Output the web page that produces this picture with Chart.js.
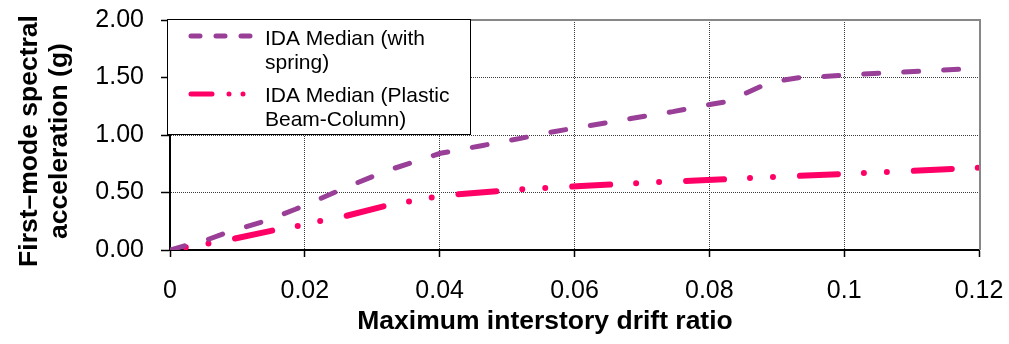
<!DOCTYPE html>
<html>
<head>
<meta charset="utf-8">
<script src="https://cdn.jsdelivr.net/npm/chart.js@4.4.1/dist/chart.umd.min.js"></script>
<style>
  html, body { margin: 0; padding: 0; background: #fff; }
  #wrap { width: 1009px; height: 344px; position: relative; }
  canvas { display: block; }
</style>
</head>
<body>
<div id="wrap"><canvas id="c" width="1009" height="344"></canvas></div>
<script>
// ---- Data ----
const springX = [0, 0.0025, 0.0057, 0.0081, 0.0141, 0.0186, 0.0216, 0.0267, 0.0322, 0.0401, 0.0462, 0.052, 0.0569, 0.0628, 0.0686, 0.0746, 0.0805, 0.0827, 0.0854, 0.0881, 0.0911, 0.0932, 0.0963, 0.1022, 0.1081, 0.114, 0.12];
const springY = [0, 0.043, 0.093, 0.145, 0.252, 0.354, 0.429, 0.559, 0.69, 0.841, 0.907, 0.971, 1.029, 1.087, 1.145, 1.203, 1.27, 1.29, 1.363, 1.435, 1.478, 1.498, 1.507, 1.528, 1.545, 1.563, 1.58];
const plasticX = [0, 0.0059, 0.0091, 0.0156, 0.0189, 0.0222, 0.0257, 0.0319, 0.0353, 0.0387, 0.042, 0.0509, 0.0542, 0.0576, 0.061, 0.0671, 0.0705, 0.0773, 0.083, 0.0902, 0.0998, 0.1096, 0.12];
const plasticY = [0, 0.058, 0.093, 0.174, 0.209, 0.252, 0.29, 0.383, 0.42, 0.455, 0.482, 0.522, 0.536, 0.545, 0.557, 0.574, 0.585, 0.603, 0.617, 0.637, 0.661, 0.687, 0.716];
const xTicks = [0, 0.02, 0.04, 0.06, 0.08, 0.1, 0.12];
const yTicks = [0, 0.5, 1.0, 1.5, 2.0];
const seriesNames = ['IDA Median (with spring)', 'IDA Median (Plastic Beam-Column)'];
const legendLines = [['IDA Median (with', 'spring)'], ['IDA Median (Plastic', 'Beam-Column)']];
const xTitle = 'Maximum interstory drift ratio';
const yTitle = ['First\u2013mode spectral', 'acceleration (g)'];

const FONT = '"Liberation Sans", Arial, Helvetica, sans-serif';
const PURPLE = '#993f98';
const PINK = '#ff0066';

function pts(xs, ys) { return xs.map((x, i) => ({ x: x, y: ys[i] })); }
function noPad(s) { s.paddingTop = 0; s.paddingBottom = 0; s.paddingLeft = 0; s.paddingRight = 0; }

const frame = {
  id: 'frame',
  beforeDatasetsDraw(chart) {
    const { ctx, chartArea: a } = chart;
    ctx.save();
    ctx.strokeStyle = '#878787';
    ctx.lineWidth = 2;
    ctx.beginPath();
    ctx.moveTo(a.left, a.top);
    ctx.lineTo(a.right + 1, a.top);
    ctx.lineTo(a.right + 1, a.bottom);
    ctx.stroke();
    ctx.restore();
  }
};

const axisTitles = {
  id: 'axisTitles',
  afterDraw(chart) {
    const ctx = chart.ctx;
    ctx.save();
    ctx.fillStyle = '#000';
    ctx.font = 'bold 26.5px ' + FONT;
    ctx.textAlign = 'center';
    ctx.textBaseline = 'middle';
    ctx.fillText(xTitle, 545, 322);
    ctx.translate(0, 141);
    ctx.rotate(-Math.PI / 2);
    ctx.fillText(yTitle[0], 0, 30);
    ctx.fillText(yTitle[1], 0, 60);
    ctx.restore();
  }
};

const legendBox = {
  id: 'legendBox',
  afterDraw(chart) {
    const ctx = chart.ctx;
    ctx.save();
    ctx.fillStyle = '#fff';
    ctx.fillRect(167, 19.5, 304, 115);
    ctx.strokeStyle = '#000';
    ctx.lineWidth = 1;
    ctx.strokeRect(167.5, 19.5, 303, 115);
    ctx.lineCap = 'round';
    ctx.strokeStyle = PURPLE;
    ctx.lineWidth = 5;
    ctx.setLineDash([9, 16]);
    ctx.beginPath(); ctx.moveTo(191, 36); ctx.lineTo(252, 36); ctx.stroke();
    ctx.strokeStyle = PINK;
    ctx.lineWidth = 5;
    ctx.setLineDash([21, 17, 0, 14, 0, 100]);
    ctx.beginPath(); ctx.moveTo(191, 94); ctx.lineTo(252, 94); ctx.stroke();
    ctx.setLineDash([]);
    ctx.fillStyle = '#000';
    ctx.font = '21px ' + FONT;
    ctx.textAlign = 'left';
    ctx.textBaseline = 'alphabetic';
    ctx.fillText(legendLines[0][0], 265, 45);
    ctx.fillText(legendLines[0][1], 265, 69);
    ctx.fillText(legendLines[1][0], 265, 102);
    ctx.fillText(legendLines[1][1], 265, 126);
    ctx.restore();
  }
};

new Chart(document.getElementById('c'), {
  type: 'line',
  data: {
    datasets: [
      {
        label: seriesNames[0],
        data: pts(springX, springY),
        borderColor: PURPLE,
        borderWidth: 5,
        borderDash: [15, 25],
        borderCapStyle: 'round',
        pointRadius: 0,
        tension: 0,
        fill: false
      },
      {
        label: seriesNames[1],
        data: pts(plasticX, plasticY),
        borderColor: PINK,
        borderWidth: 6,
        borderDash: [38, 26, 0, 23, 0, 27],
        borderDashOffset: 48,
        borderCapStyle: 'round',
        pointRadius: 0,
        tension: 0,
        fill: false
      }
    ]
  },
  options: {
    responsive: false,
    animation: false,
    devicePixelRatio: 1,
    layout: { padding: { left: 0, top: 20, right: 30, bottom: 0 }, autoPadding: false },
    plugins: { legend: { display: false }, tooltip: { enabled: false } },
    scales: {
      x: {
        type: 'linear',
        min: 0, max: 0.12,
        afterFit(s) { s.height = 94; noPad(s); },
        afterBuildTicks(s) { s.ticks = xTicks.map(v => ({ value: v })); },
        ticks: {
          color: '#000',
          padding: 19,
          maxRotation: 0,
          font: { family: FONT, size: 25 },
          callback: (v) => String(Number(v.toFixed(2)))
        },
        grid: { color: '#3a3a3a', lineWidth: 1, tickLength: 7, tickColor: '#000', tickWidth: 1.5 },
        border: { display: true, color: '#000', width: 2, dash: [1, 1] },
        title: { display: false }
      },
      y: {
        type: 'linear',
        min: 0, max: 2,
        afterFit(s) { s.width = 170; noPad(s); },
        afterBuildTicks(s) { s.ticks = yTicks.map(v => ({ value: v })); },
        ticks: {
          color: '#000',
          padding: 17,
          font: { family: FONT, size: 25 },
          callback: (v) => v.toFixed(2)
        },
        grid: { color: '#3a3a3a', lineWidth: 1, tickLength: 9, tickColor: '#000', tickWidth: 1.5 },
        border: { display: true, color: '#000', width: 2, dash: [1, 1] },
        title: { display: false }
      }
    }
  },
  plugins: [frame, axisTitles, legendBox]
});
</script>
</body>
</html>
